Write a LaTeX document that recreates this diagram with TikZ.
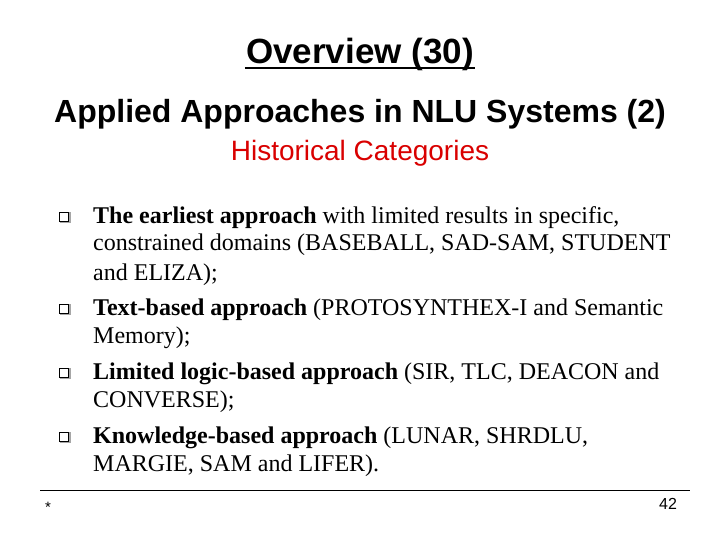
\documentclass[tikz,border=0pt]{standalone}
\usepackage{fontspec}
\setmainfont{Liberation Serif}
\newfontfamily\arialf{Liberation Sans}
\begin{document}
\begin{tikzpicture}[x=1pt,y=-1pt,
  body/.style={anchor=base west,inner sep=0pt,font=\fontsize{24}{28}\selectfont,align=left},
  bul/.style={draw,fill=white,minimum size=9pt,inner sep=0pt,line width=0.7pt}]
\useasboundingbox (0,0) rectangle (720,540);
\node[font=\arialf\bfseries\fontsize{35}{40}\selectfont,inner sep=1pt] (t) at (360,54) {Overview (30)};
\draw[line width=2pt] ([yshift=-5pt]t.base west) -- ([yshift=-5pt]t.base east);
\node[font=\arialf\bfseries\fontsize{32}{36}\selectfont] (s) at (360,114) {Applied Approaches in NLU Systems (2)};
\node[font=\arialf\fontsize{28}{32}\selectfont,text=red!85!black] (h) at (360,153) {Historical Categories};
\foreach \n/\y in {1/215,2/307,3/371,4/435}{
  \fill[gray!70] (60,\y-3) rectangle (71,\y+8);
  \node[bul] (b\n) at (63.5,\y+1.5) {};
}
\node[body] (l1) at (93,223) {\textbf{The earliest approach} with limited results in specific,};
\node[body] (l1b) at (93,251) {constrained domains (BASEBALL, SAD-SAM, STUDENT};
\node[body] (l1c) at (93,280) {and ELIZA);};
\node[body] (l2) at (93,315) {\textbf{Text-based approach} (PROTOSYNTHEX-I and Semantic};
\node[body] (l2b) at (93,343) {Memory);};
\node[body] (l3) at (93,379) {\textbf{Limited logic-based approach} (SIR, TLC, DEACON and};
\node[body] (l3b) at (93,407) {CONVERSE);};
\node[body] (l4) at (93,443) {\textbf{Knowledge-based approach} (LUNAR, SHRDLU,};
\node[body] (l4b) at (93,471) {MARGIE, SAM and LIFER).};
\coordinate (la) at (40,490); \coordinate (lb) at (690,490);
\draw[line width=0.8pt] (la) -- (lb);
\node[font=\arialf\fontsize{15}{17}\selectfont] (st) at (48,507) {*};
\node[font=\arialf\fontsize{16}{18}\selectfont] (pg) at (668,504) {42};
\end{tikzpicture}
\end{document}
